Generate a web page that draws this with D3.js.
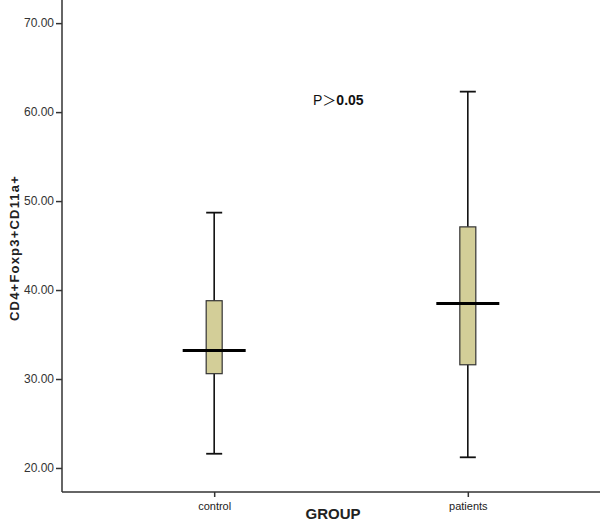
<!DOCTYPE html>
<html><head><meta charset="utf-8">
<script src="https://cdn.jsdelivr.net/npm/d3@7"></script>
<style>body{margin:0;background:#fff}svg{display:block}</style>
</head><body>
<script>
const categories = ["control", "patients"];
const whiskerLow = [21.6, 21.2];
const q1 = [30.6, 31.6];
const median = [33.2, 38.5];
const q3 = [38.8, 47.1];
const whiskerHigh = [48.7, 62.3];
const yTicks = [20, 30, 40, 50, 60, 70];

const W = 600, H = 525;
const svg = d3.select("body").append("svg").attr("width", W).attr("height", H);
const y = d3.scaleLinear().domain([17.3, 72.6]).range([492, 0]);
const x = d3.scalePoint().domain(categories).range([62, 620]).padding(0.6);

const font = "Arial, 'Liberation Sans', sans-serif";

// axes
const ya = svg.append("g").attr("transform", "translate(62,0)")
  .call(d3.axisLeft(y).tickValues(yTicks).tickFormat(d3.format(".2f")).tickSize(6).tickPadding(2));
ya.select(".domain").attr("d", "M0,0V492").attr("stroke", "#333").attr("stroke-width", 1.5);
ya.selectAll(".tick line").attr("stroke", "#333").attr("stroke-width", 1.5);
ya.selectAll(".tick text").attr("font-family", font).attr("font-size", 12).attr("fill", "#333");

const xa = svg.append("g").attr("transform", "translate(0,492)")
  .call(d3.axisBottom(x).tickSize(5).tickPadding(5));
xa.select(".domain").attr("d", "M62,0H600").attr("stroke", "#333").attr("stroke-width", 1.5);
xa.selectAll(".tick line").attr("stroke", "#333").attr("stroke-width", 1.5);
xa.selectAll(".tick text").attr("font-family", font).attr("font-size", 11).attr("fill", "#222");

// boxes
const data = categories.map((c, i) => ({c, lo: whiskerLow[i], q1: q1[i], med: median[i], q3: q3[i], hi: whiskerHigh[i]}));
const g = svg.append("g");
const bw = 16, capW = 16, medW = 63;
data.forEach(d => {
  const cx = x(d.c);
  g.append("line").attr("x1", cx).attr("x2", cx).attr("y1", y(d.hi)).attr("y2", y(d.q3)).attr("stroke", "#111").attr("stroke-width", 1.6);
  g.append("line").attr("x1", cx).attr("x2", cx).attr("y1", y(d.q1)).attr("y2", y(d.lo)).attr("stroke", "#111").attr("stroke-width", 1.6);
  g.append("line").attr("x1", cx - capW/2).attr("x2", cx + capW/2).attr("y1", y(d.hi)).attr("y2", y(d.hi)).attr("stroke", "#111").attr("stroke-width", 1.8);
  g.append("line").attr("x1", cx - capW/2).attr("x2", cx + capW/2).attr("y1", y(d.lo)).attr("y2", y(d.lo)).attr("stroke", "#111").attr("stroke-width", 1.8);
  g.append("rect").attr("x", cx - bw/2).attr("y", y(d.q3)).attr("width", bw).attr("height", y(d.q1) - y(d.q3))
    .attr("fill", "#d3ce98").attr("stroke", "#333").attr("stroke-width", 1.2);
  g.append("line").attr("x1", cx - medW/2).attr("x2", cx + medW/2).attr("y1", y(d.med)).attr("y2", y(d.med)).attr("stroke", "#000").attr("stroke-width", 3);
});

// labels
svg.append("text").attr("x", 333).attr("y", 519).attr("text-anchor", "middle")
  .attr("font-family", font).attr("font-size", 15).attr("font-weight", "bold").attr("fill", "#222").text("GROUP");
svg.append("text").attr("transform", "translate(19,248) rotate(-90)").attr("text-anchor", "middle")
  .attr("font-family", font).attr("font-size", 13).attr("font-weight", "bold").attr("letter-spacing", 1.2).attr("fill", "#222").text("CD4+Foxp3+CD11a+");
const pt = svg.append("text").attr("x", 313).attr("y", 105).attr("font-family", font).attr("font-size", 14).attr("fill", "#111");
pt.append("tspan").text("P");
pt.append("tspan").attr("font-family", "'Noto Sans CJK SC', sans-serif").attr("font-size", 14).text("＞");
pt.append("tspan").attr("font-weight", "bold").attr("font-size", 14).text("0.05");
</script>
</body></html>
